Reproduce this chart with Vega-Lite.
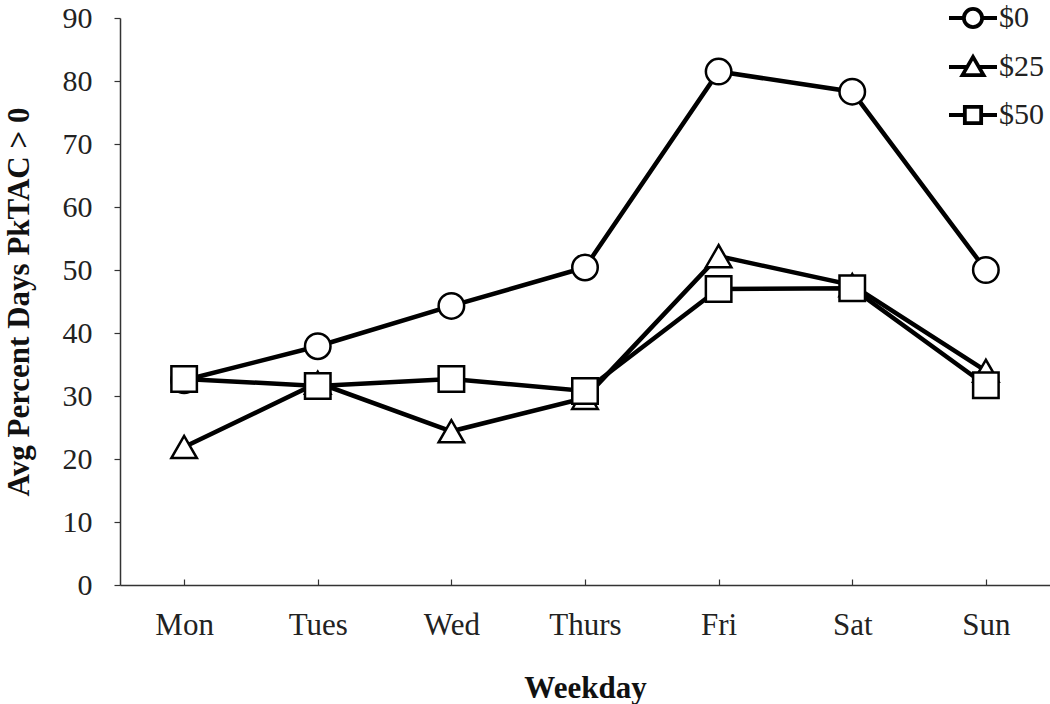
{
  "$schema": "https://vega.github.io/schema/vega-lite/v6.json",
  "width": 930,
  "height": 567,
  "autosize": "none",
  "padding": {"left": 120, "top": 18, "right": 0, "bottom": 119},
  "background": "white",
  "config": {
    "view": {"stroke": null},
    "font": "Liberation Serif",
    "axis": {"labelFont": "Liberation Serif", "titleFont": "Liberation Serif", "labelColor": "#222", "titleColor": "#111", "domainColor": "#333", "tickColor": "#333", "domainWidth": 1.5, "tickWidth": 1.2, "grid": false}
  },
  "data": {
    "values": [
      {"day": "Mon", "series": "$0", "v": 32.5},
      {"day": "Tues", "series": "$0", "v": 37.9},
      {"day": "Wed", "series": "$0", "v": 44.3},
      {"day": "Thurs", "series": "$0", "v": 50.4},
      {"day": "Fri", "series": "$0", "v": 81.5},
      {"day": "Sat", "series": "$0", "v": 78.3},
      {"day": "Sun", "series": "$0", "v": 50.0},
      {"day": "Mon", "series": "$25", "v": 21.9},
      {"day": "Tues", "series": "$25", "v": 32.1},
      {"day": "Wed", "series": "$25", "v": 24.4},
      {"day": "Thurs", "series": "$25", "v": 29.7},
      {"day": "Fri", "series": "$25", "v": 52.2},
      {"day": "Sat", "series": "$25", "v": 47.6},
      {"day": "Sun", "series": "$25", "v": 34.0},
      {"day": "Mon", "series": "$50", "v": 32.7},
      {"day": "Tues", "series": "$50", "v": 31.6},
      {"day": "Wed", "series": "$50", "v": 32.7},
      {"day": "Thurs", "series": "$50", "v": 30.8},
      {"day": "Fri", "series": "$50", "v": 47.0},
      {"day": "Sat", "series": "$50", "v": 47.1},
      {"day": "Sun", "series": "$50", "v": 31.7}
    ]
  },
  "encoding": {
    "x": {
      "field": "day", "type": "ordinal",
      "sort": ["Mon", "Tues", "Wed", "Thurs", "Fri", "Sat", "Sun"],
      "scale": {"type": "point", "padding": 0.48},
      "axis": {"title": "Weekday", "labelAngle": 0, "labelFontSize": 31, "titleFontSize": 31, "titleFontWeight": "bold", "tickSize": -6, "labelPadding": 31, "titlePadding": 33}
    },
    "y": {
      "field": "v", "type": "quantitative",
      "scale": {"domain": [0, 90], "nice": false},
      "axis": {"title": "Avg Percent Days PkTAC > 0", "values": [0,10,20,30,40,50,60,70,80,90], "labelFontSize": 30, "titleFontSize": 31, "titleFontWeight": "bold", "tickSize": 6, "labelPadding": 22, "titlePadding": 27}
    }
  },
  "layer": [
    {
      "mark": {"type": "line", "color": "black", "strokeWidth": 4.5},
      "encoding": {"detail": {"field": "series"}}
    },
    {
      "mark": {"type": "point", "filled": true, "fill": "white", "stroke": "black", "strokeWidth": 2.5, "size": 650, "opacity": 1},
      "encoding": {
        "shape": {"field": "series", "type": "nominal", "scale": {"domain": ["$0", "$25", "$50"], "range": ["circle", "triangle-up", "square"]}, "legend": null}
      }
    },
    {
      "transform": [{"filter": "false"}],
      "mark": {"type": "point", "filled": false, "color": "black", "stroke": "black", "strokeWidth": 3.8, "opacity": 1},
      "encoding": {
        "shape": {
          "field": "series", "type": "nominal",
          "scale": {"domain": ["$0", "$25", "$50"], "range": [
            "M-1,0H-0.38M0.38,0H1M-0.38,0A0.38,0.38 0 1,0 0.38,0A0.38,0.38 0 1,0 -0.38,0Z",
            "M-1,0H-0.25M0.25,0H1M-0.44,0.34L0,-0.42L0.44,0.34Z",
            "M-1,0H-0.34M0.34,0H1M-0.34,-0.34H0.34V0.34H-0.34Z"
          ]},
          "legend": {"title": null, "orient": "none", "legendX": 827, "legendY": -26, "padding": 0, "symbolSize": 2304, "symbolStrokeWidth": 3.8, "symbolStrokeColor": "black", "symbolOpacity": 1, "rowPadding": 6, "labelOffset": 0, "labelFont": "Liberation Serif", "labelFontSize": 30, "labelColor": "#222"}
        }
      }
    }
  ],
  "resolve": {"scale": {"shape": "independent"}}
}
